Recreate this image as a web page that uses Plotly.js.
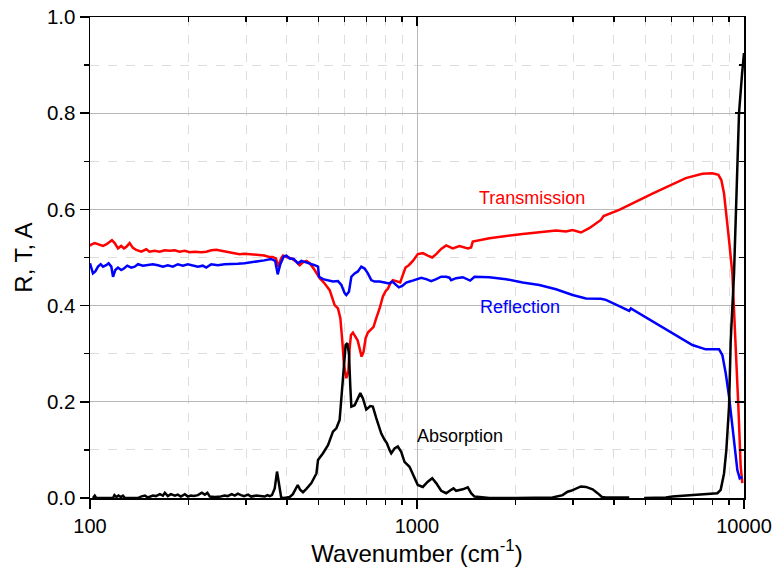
<!DOCTYPE html>
<html>
<head>
<meta charset="utf-8">
<script src="https://cdn.plot.ly/plotly-3.0.1.min.js"></script>
<style>html,body{margin:0;padding:0;background:#fff;}#chart{width:773px;height:583px;}</style>
</head>
<body>
<div id="chart"></div>
<script>
// Wavenumber (cm^-1) and values
var transX = [100,100.9,103.4,107.1,109.6,112.1,116.7,119.0,121.8,124.6,127.0,129.1,132.2,135.3,138.5,143.5,148.6,152.1,157.6,163.3,169.1,175.2,181.5,188.0,194.8,201.8,209.0,218.8,226.7,234.9,243.4,252.1,264.1,276.6,286.5,296.8,310.9,325.6,341.1,353.3,361.7,370.3,376.6,383.8,389.3,403.2,413.0,427.6,437.7,448.0,458.9,469.7,486.4,504.1,521.9,540.7,560.0,573.2,582.9,591.2,597.9,608.0,616.6,622.3,628.1,636.8,649.1,658.2,667.5,676.9,686.6,696.3,707.6,724.6,736.5,750.6,768.4,786.5,801.5,814.5,828.5,843.7,864.1,888.7,905.2,922.4,944.1,971.2,1005.9,1041.8,1079,1112.9,1144.6,1185.6,1228.1,1257,1286,1349,1430,1464,1481,1665,2104,2661,2855,2991,3172,3363,3525,3651,3720,4153,5248,6637,7460,8002,8348,8525,8688,8831,9000,9213,9433,9611,9768,9883];
var transY = [0.524,0.527,0.530,0.527,0.524,0.527,0.536,0.530,0.519,0.524,0.519,0.522,0.530,0.520,0.516,0.512,0.517,0.512,0.514,0.512,0.515,0.514,0.515,0.512,0.514,0.511,0.512,0.511,0.512,0.515,0.516,0.514,0.511,0.509,0.507,0.508,0.507,0.505,0.504,0.501,0.501,0.498,0.481,0.498,0.504,0.500,0.498,0.491,0.484,0.490,0.493,0.488,0.474,0.457,0.446,0.432,0.401,0.394,0.374,0.325,0.277,0.249,0.263,0.311,0.339,0.344,0.335,0.328,0.311,0.294,0.304,0.332,0.344,0.351,0.356,0.374,0.394,0.419,0.430,0.435,0.446,0.453,0.450,0.448,0.464,0.479,0.484,0.493,0.507,0.509,0.504,0.500,0.507,0.518,0.525,0.522,0.519,0.524,0.519,0.521,0.533,0.540,0.549,0.556,0.554,0.557,0.552,0.561,0.570,0.578,0.586,0.599,0.633,0.665,0.674,0.675,0.672,0.661,0.633,0.592,0.536,0.467,0.328,0.190,0.065,0.031];

var reflX = [100,100.5,102.1,103.8,105.8,107.8,109.6,112.1,114.0,116.2,117.6,119.5,121.8,124.6,127.0,130.0,133.7,137.0,140.2,145.1,150.3,155.7,161.3,167.1,173.0,179.2,185.6,192.3,199.2,206.3,213.7,221.3,226.7,234.9,245.8,257.9,270.2,283.2,296.8,310.9,325.6,341.1,357.5,368.3,375.0,381.9,391.3,398.6,408.0,419.7,432.5,443.0,453.4,469.7,486.4,498.1,501.6,515.9,534.3,553.4,573.2,587.1,600.8,608.0,619.3,629.8,644.6,659.5,675.5,691.4,707.6,724.6,741.7,768.4,795.9,820.3,840.2,859.9,880.0,901.0,926.8,960.1,994.5,1029.9,1066.9,1104.9,1144.6,1185.6,1228,1257,1272,1317,1380,1430,1454,1499,1665,1872,2104,2366,2661,2991,3286,3651,3782,4153,4456,4508,4778,5248,6040,6954,7638,8389,8587,8794,9000,9322,9542,9703,9883];
var reflY = [0.488,0.484,0.467,0.471,0.481,0.486,0.481,0.484,0.488,0.481,0.460,0.474,0.479,0.474,0.477,0.483,0.479,0.481,0.486,0.483,0.484,0.486,0.484,0.481,0.484,0.481,0.486,0.483,0.486,0.483,0.481,0.483,0.479,0.486,0.484,0.486,0.486,0.487,0.488,0.490,0.491,0.494,0.497,0.493,0.465,0.486,0.502,0.504,0.498,0.497,0.488,0.493,0.491,0.488,0.484,0.481,0.460,0.455,0.453,0.450,0.451,0.443,0.426,0.422,0.429,0.460,0.467,0.471,0.481,0.477,0.467,0.453,0.450,0.450,0.448,0.446,0.450,0.443,0.438,0.441,0.448,0.451,0.455,0.458,0.455,0.451,0.455,0.460,0.460,0.458,0.453,0.457,0.459,0.455,0.452,0.460,0.459,0.455,0.448,0.443,0.434,0.422,0.415,0.414,0.412,0.399,0.389,0.394,0.384,0.367,0.342,0.318,0.309,0.309,0.297,0.259,0.211,0.121,0.058,0.041,0.044];

var absX = [102.1,103.4,104.5,117.6,118.8,120.5,122.2,124.4,126.1,127.9,140.2,143.1,147.2,150.3,155.7,159.1,163.5,167.1,169.4,173.0,176.7,181.8,185.6,189.6,195.0,199.2,203.5,207.8,213.7,219.8,224.5,228.5,232.5,240.8,251.0,258.0,263.6,271.2,277.2,283.2,289.5,295.9,304.4,311.0,322.2,333.7,342.2,348.8,354.4,360.1,367.2,373.2,379.2,384.3,392.0,408.0,417.3,431.8,439.2,448.0,458.9,475.3,492.5,498.1,515.9,534.3,553.4,566.6,579.9,591.1,597.8,605.0,612.3,619.2,625.3,629.8,644.5,659.6,670.9,683.3,699.7,719.6,732.8,750.6,777.6,795.9,808.8,824.2,834.1,853.7,873.8,894.8,915.7,948.6,982.7,1005.6,1041.6,1079,1112.9,1144.6,1185.6,1228,1272,1292.5,1317,1380,1430,1464,1499,1588,1665,2009,2366,2598,2788,2887,2957,3064,3172,3286,3443,3567,3677,3782,4456,4600,4950,5768,6040,6794,7638,8290,8487,8688,8831,9000,9107,9322,9454,9655,9860,10000];
var absY = [0,0.005,0,0,0.006,0.002,0.005,0.002,0.005,0,0,0.003,0.005,0.001,0.005,0.004,0.008,0.005,0.011,0.004,0.008,0.005,0.007,0.003,0.008,0.003,0.005,0.004,0.006,0.011,0.007,0.011,0.003,0.002,0.003,0.005,0.004,0.008,0.005,0.009,0.006,0.004,0.007,0.003,0.005,0.004,0.003,0.006,0.004,0.006,0.020,0.055,0.020,0.001,0,0.002,0.008,0.027,0.017,0.012,0.019,0.031,0.051,0.079,0.093,0.110,0.138,0.145,0.162,0.231,0.280,0.318,0.322,0.301,0.231,0.190,0.193,0.207,0.218,0.207,0.184,0.191,0.190,0.166,0.134,0.121,0.114,0.100,0.093,0.103,0.107,0.096,0.075,0.065,0.044,0.027,0.023,0.034,0.041,0.031,0.015,0.010,0.017,0.020,0.015,0.018,0.022,0.010,0.003,0.001,0,0,0.001,0.001,0.006,0.013,0.015,0.020,0.024,0.023,0.018,0.010,0.002,0.001,0.001,null,0,0.001,0.003,0.006,0.008,0.010,0.017,0.051,0.100,0.190,0.328,0.467,0.600,0.800,0.880,0.925];

var majorX = [100, 1000, 10000];
var majorXText = ['100', '1000', '10000'];
var minorX = [200,300,400,500,600,700,800,900,2000,3000,4000,5000,6000,7000,8000,9000];

var labels = ['Transmission', 'Reflection', 'Absorption'];

var FONT = 'Liberation Sans, Arial, sans-serif';
var lw = 2.5;

var traces = [
  {x: transX, y: transY, type: 'scatter', mode: 'lines', line: {color: '#ff0000', width: lw}, name: labels[0], hoverinfo: 'skip'},
  {x: reflX, y: reflY, type: 'scatter', mode: 'lines', line: {color: '#0000ff', width: lw}, name: labels[1], hoverinfo: 'skip'},
  {x: absX, y: absY, type: 'scatter', mode: 'lines', line: {color: '#000000', width: lw}, name: labels[2], hoverinfo: 'skip', connectgaps: false},
  {x: [], y: [], xaxis: 'x2', yaxis: 'y2', type: 'scatter', mode: 'lines', showlegend: false, hoverinfo: 'skip'}
];

var axisCommon = {
  showline: true, linecolor: '#000', linewidth: 1.5,
  tickcolor: '#000', tickwidth: 1.5, zeroline: false
};

var layout = {
  width: 773, height: 583,
  margin: {l: 90, r: 29, t: 17, b: 85},
  paper_bgcolor: '#fff', plot_bgcolor: '#fff',
  showlegend: false,
  font: {family: FONT, color: '#000'},
  xaxis: Object.assign({}, axisCommon, {
    type: 'log', range: [2, 4],
    tickmode: 'array', tickvals: majorX, ticktext: majorXText,
    ticks: 'outside', ticklen: 9,
    tickfont: {size: 20, family: FONT},
    showgrid: true, gridcolor: '#b8b8b8', gridwidth: 1,
    minor: {tickmode: 'array', tickvals: minorX, ticks: 'outside', ticklen: 5, tickwidth: 1.5, tickcolor: '#000',
            showgrid: true, gridcolor: '#dddddd', gridwidth: 1, griddash: 'dash'},
    automargin: 'bottom',
    title: {text: 'Wavenumber (cm<sup>-1</sup>)', font: {size: 24, family: FONT}, standoff: 0}
  }),
  yaxis: Object.assign({}, axisCommon, {
    range: [0, 1], tick0: 0, dtick: 0.2, tickformat: '.1f',
    ticks: 'outside', ticklen: 9,
    tickfont: {size: 20.5, family: FONT},
    showgrid: true, gridcolor: '#b8b8b8', gridwidth: 1,
    minor: {dtick: 0.1, ticks: 'outside', ticklen: 5, tickwidth: 1.5, tickcolor: '#000',
            showgrid: true, gridcolor: '#dddddd', gridwidth: 1, griddash: 'dash'},
    title: {text: 'R, T, A', font: {size: 24, family: FONT}}
  }),
  xaxis2: Object.assign({}, axisCommon, {
    type: 'log', range: [2, 4], overlaying: 'x', side: 'top', anchor: 'y2',
    tickmode: 'array', tickvals: majorX, ticks: 'inside', ticklen: 9,
    showticklabels: false, showgrid: false,
    minor: {tickmode: 'array', tickvals: minorX, ticks: 'inside', ticklen: 5, tickwidth: 1.5, tickcolor: '#000', showgrid: false}
  }),
  yaxis2: Object.assign({}, axisCommon, {
    range: [0, 1], overlaying: 'y', side: 'right', anchor: 'x2',
    tick0: 0, dtick: 0.2, ticks: 'inside', ticklen: 9,
    showticklabels: false, showgrid: false,
    minor: {dtick: 0.1, ticks: 'inside', ticklen: 5, tickwidth: 1.5, tickcolor: '#000', showgrid: false}
  }),
  annotations: [
    {xref: 'paper', yref: 'paper', x: 0.676, y: 0.624, xanchor: 'center', yanchor: 'middle', text: labels[0], showarrow: false, font: {size: 18, color: '#ff0000', family: FONT}},
    {xref: 'paper', yref: 'paper', x: 0.657, y: 0.397, xanchor: 'center', yanchor: 'middle', text: labels[1], showarrow: false, font: {size: 18, color: '#0000ff', family: FONT}},
    {xref: 'paper', yref: 'paper', x: 0.566, y: 0.129, xanchor: 'center', yanchor: 'middle', text: labels[2], showarrow: false, font: {size: 18, color: '#000000', family: FONT}}
  ]
};

Plotly.newPlot('chart', traces, layout, {staticPlot: true, displayModeBar: false});
</script>
</body>
</html>
